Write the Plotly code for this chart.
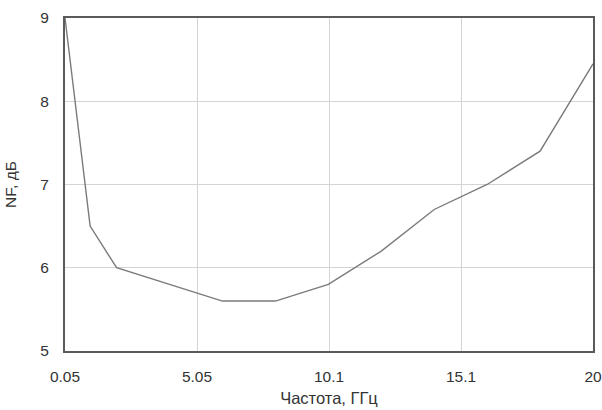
import plotly.graph_objects as go

freq = [0.05, 1, 2, 4, 6, 8, 10, 12, 14, 16, 18, 20]
nf = [9.0, 6.5, 6.0, 5.8, 5.6, 5.6, 5.8, 6.2, 6.7, 7.0, 7.4, 8.45]

x_tickvals = [0.05, 5.0375, 10.025, 15.0125, 20]
x_ticktext = ["0.05", "5.05", "10.1", "15.1", "20"]
y_tickvals = [5, 6, 7, 8, 9]

fig = go.Figure()
fig.add_trace(go.Scatter(x=freq, y=nf, mode="lines",
                         line=dict(color="#7a7a7a", width=1.4),
                         showlegend=False, hoverinfo="skip"))

fig.update_layout(
    width=602, height=410,
    margin=dict(l=65, r=9, t=18, b=59),
    paper_bgcolor="white", plot_bgcolor="white",
    font=dict(family="Liberation Sans, Arial, sans-serif", size=15.5, color="#333333"),
)
fig.update_xaxes(
    range=[0.05, 20], tickvals=x_tickvals, ticktext=x_ticktext,
    showgrid=True, gridcolor="#d4d4d4", gridwidth=1,
    showline=True, linecolor="#5a5a5a", linewidth=2, mirror=True,
    zeroline=False, ticks="", ticklabelstandoff=10, automargin=False,
    ticklabeloverflow="allow",
    title=dict(text="Частота, ГГц", standoff=9, font=dict(size=16.5)),
)
fig.update_yaxes(
    range=[5, 9], tickvals=y_tickvals,
    showgrid=True, gridcolor="#d4d4d4", gridwidth=1,
    showline=True, linecolor="#5a5a5a", linewidth=2, mirror=True,
    zeroline=False, ticks="", ticklabelstandoff=11, automargin=False,
    ticklabeloverflow="allow",
    title=dict(text="NF, дБ", standoff=20, font=dict(size=15.5)),
)

fig.write_html(
    "out.html",
    config={"displayModeBar": False},
    post_script="document.body.style.margin='0';document.body.style.overflow='hidden';",
)
